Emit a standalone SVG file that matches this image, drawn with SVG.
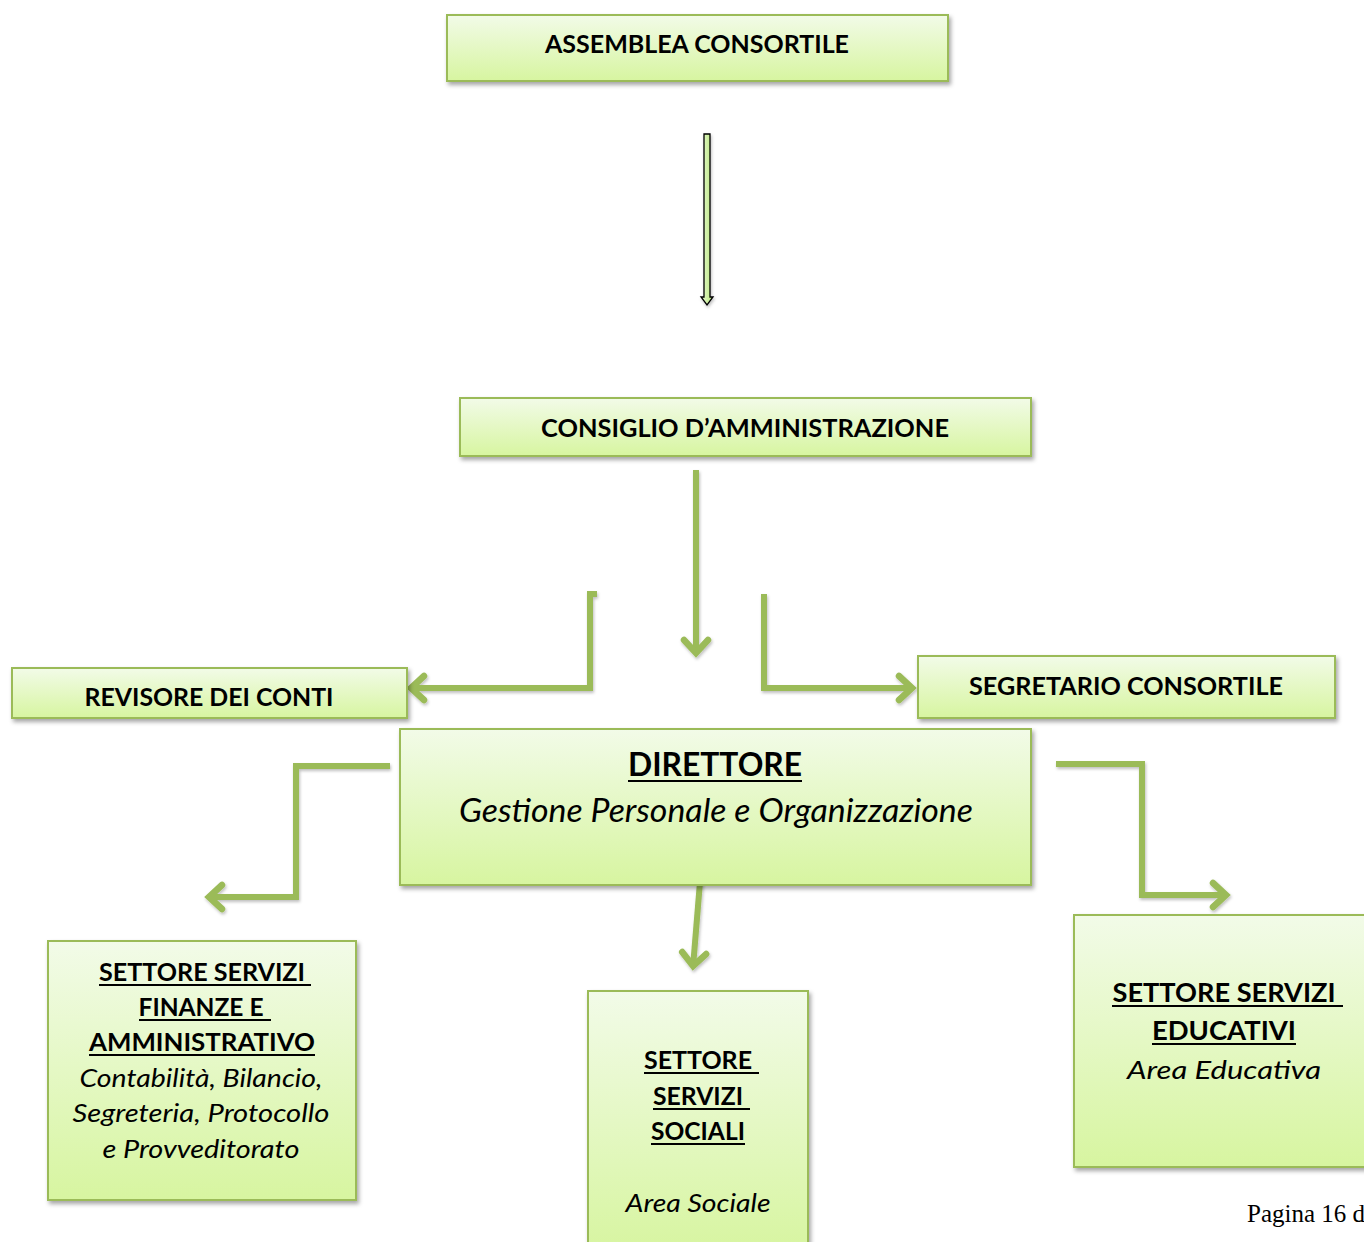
<svg xmlns="http://www.w3.org/2000/svg" width="1364" height="1242" viewBox="0 0 1364 1242">
<style>
.box{fill:url(#g);stroke:#9bbb59;stroke-width:2;filter:url(#sh)}
.t{font-family:Lato,"Open Sans","Liberation Sans",sans-serif;font-weight:bold;fill:#000;text-anchor:middle}
.i{font-family:Lato,"Open Sans","Liberation Sans",sans-serif;font-style:italic;fill:#000;text-anchor:middle}
.u{stroke:#000;stroke-width:2}
.c{fill:none;stroke:#9bbb59;stroke-width:6;stroke-linejoin:miter;filter:url(#sh2)}
</style>
<defs>
<linearGradient id="g" x1="0" y1="0" x2="0" y2="1">
<stop offset="0" stop-color="#f2fbe8"/>
<stop offset="1" stop-color="#d7f5a0"/>
</linearGradient>
<linearGradient id="g2" x1="0" y1="0" x2="1" y2="0">
<stop offset="0" stop-color="#e9f8d4"/>
<stop offset="1" stop-color="#b8e87a"/>
</linearGradient>
<filter id="sh" x="-5%" y="-10%" width="115%" height="130%">
<feDropShadow dx="2" dy="3" stdDeviation="2" flood-color="#000" flood-opacity="0.35"/>
</filter>
<filter id="sh2" filterUnits="userSpaceOnUse" x="0" y="0" width="1364" height="1242">
<feDropShadow dx="1" dy="2" stdDeviation="1.5" flood-color="#000" flood-opacity="0.25"/>
</filter>
<marker id="ah" viewBox="-18 -16 22 32" refX="0" refY="0" markerWidth="22" markerHeight="32" markerUnits="userSpaceOnUse" orient="auto">
<path d="M-14,-12 L-1,0 L-14,12" fill="none" stroke="#9bbb59" stroke-width="6.5" stroke-linecap="round" stroke-linejoin="miter"/>
</marker>
</defs>
<rect width="1364" height="1242" fill="#fff"/>

<g id="connectors">
<path d="M704,134 L710,134 L710,297 L713,297 L707,305 L701,297 L704,297 Z" fill="url(#g2)" stroke="#000" stroke-width="1.3" filter="url(#sh2)"/>
<path class="c" d="M696,470 L696,654" marker-end="url(#ah)"/>
<path class="c" d="M597,594 L590,594 L590,688 L410,688" marker-end="url(#ah)"/>
<path class="c" d="M764,594 L764,688 L913,688" marker-end="url(#ah)"/>
<path class="c" d="M390,766 L296,766 L296,897 L208,897" marker-end="url(#ah)"/>
<path class="c" d="M1056,764 L1142,764 L1142,895 L1227,895" marker-end="url(#ah)"/>
<path class="c" d="M700,882 L693,967" marker-end="url(#ah)"/>
</g>

<g id="assemblea">
<rect class="box" x="447" y="15" width="501" height="66"/>
<text class="t" x="697" y="53" font-size="25" textLength="304" lengthAdjust="spacingAndGlyphs">ASSEMBLEA CONSORTILE</text>
</g>

<g id="consiglio">
<rect class="box" x="460" y="398" width="571" height="58"/>
<text class="t" x="745" y="437" font-size="25" textLength="408" lengthAdjust="spacingAndGlyphs">CONSIGLIO D’AMMINISTRAZIONE</text>
</g>

<g id="revisore">
<rect class="box" x="12" y="668" width="395" height="50"/>
<text class="t" x="209" y="706" font-size="25" textLength="249" lengthAdjust="spacingAndGlyphs">REVISORE DEI CONTI</text>
</g>

<g id="segretario">
<rect class="box" x="918" y="656" width="417" height="62"/>
<text class="t" x="1126" y="695" font-size="25" textLength="314" lengthAdjust="spacingAndGlyphs">SEGRETARIO CONSORTILE</text>
</g>

<g id="direttore">
<rect class="box" x="400" y="729" width="631" height="156"/>
<text class="t" x="715" y="776" font-size="32" textLength="174" lengthAdjust="spacingAndGlyphs">DIRETTORE</text>
<line class="u" x1="628" y1="781" x2="802" y2="781"/>
<text class="i" x="716" y="822" font-size="32" textLength="514" lengthAdjust="spacingAndGlyphs">Gestione Personale e Organizzazione</text>
</g>

<g id="finanze">
<rect class="box" x="48" y="941" width="308" height="259"/>
<text class="t" x="202" y="981" font-size="25" textLength="206" lengthAdjust="spacingAndGlyphs">SETTORE SERVIZI</text>
<line class="u" x1="99" y1="985" x2="311" y2="985"/>
<text class="t" x="201" y="1016" font-size="25" textLength="125" lengthAdjust="spacingAndGlyphs">FINANZE E</text>
<line class="u" x1="139" y1="1020" x2="271" y2="1020"/>
<text class="t" x="202" y="1051" font-size="25" textLength="226" lengthAdjust="spacingAndGlyphs">AMMINISTRATIVO</text>
<line class="u" x1="89" y1="1055" x2="315" y2="1055"/>
<text class="i" x="201" y="1087" font-size="25" textLength="243" lengthAdjust="spacingAndGlyphs">Contabilità, Bilancio,</text>
<text class="i" x="201" y="1122" font-size="25" textLength="257" lengthAdjust="spacingAndGlyphs">Segreteria, Protocollo</text>
<text class="i" x="201" y="1158" font-size="25" textLength="197" lengthAdjust="spacingAndGlyphs">e Provveditorato</text>
</g>

<g id="sociali">
<rect class="box" x="588" y="991" width="220" height="262"/>
<text class="t" x="698" y="1069" font-size="25" textLength="108" lengthAdjust="spacingAndGlyphs">SETTORE</text>
<line class="u" x1="644" y1="1073" x2="759" y2="1073"/>
<text class="t" x="698" y="1105" font-size="25" textLength="90" lengthAdjust="spacingAndGlyphs">SERVIZI</text>
<line class="u" x1="653" y1="1109" x2="750" y2="1109"/>
<text class="t" x="698" y="1140" font-size="25" textLength="94" lengthAdjust="spacingAndGlyphs">SOCIALI</text>
<line class="u" x1="651" y1="1144" x2="745" y2="1144"/>
<text class="i" x="698" y="1212" font-size="25" textLength="145" lengthAdjust="spacingAndGlyphs">Area Sociale</text>
</g>

<g id="educativi">
<rect class="box" x="1074" y="915" width="300" height="252"/>
<text class="t" x="1224" y="1002" font-size="26" textLength="223" lengthAdjust="spacingAndGlyphs">SETTORE SERVIZI</text>
<line class="u" x1="1112" y1="1006" x2="1343" y2="1006"/>
<text class="t" x="1224" y="1040" font-size="26" textLength="144" lengthAdjust="spacingAndGlyphs">EDUCATIVI</text>
<line class="u" x1="1152" y1="1044" x2="1296" y2="1044"/>
<text class="i" x="1224" y="1079" font-size="26" textLength="194" lengthAdjust="spacingAndGlyphs">Area Educativa</text>
</g>

<text x="1247" y="1222" font-family="'Liberation Serif',serif" font-size="25" fill="#000">Pagina 16 d</text>
</svg>
